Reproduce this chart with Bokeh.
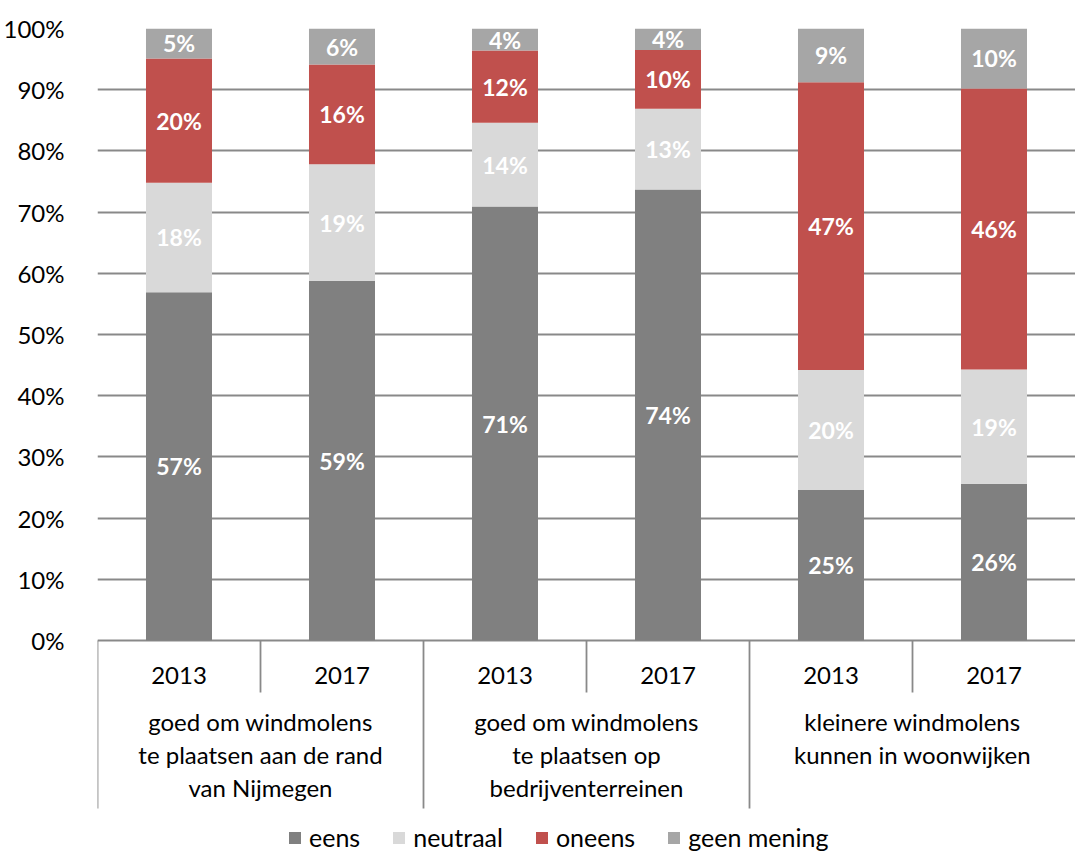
from bokeh.plotting import figure
from bokeh.models import (Range1d, FixedTicker, Legend, LegendItem,
                          ColumnDataSource, PrintfTickFormatter)
from bokeh.core.properties import value
from bokeh.embed import file_html
from bokeh.resources import INLINE

# ---------------- data ----------------
groups = [
    "goed om windmolens\nte plaatsen aan de rand\nvan Nijmegen",
    "goed om windmolens\nte plaatsen op\nbedrijventerreinen",
    "kleinere windmolens\nkunnen in woonwijken",
]
years = ["2013", "2017", "2013", "2017", "2013", "2017"]
series = ["eens", "neutraal", "oneens", "geen mening"]
eens = [56.9, 58.8, 70.9, 73.7, 24.6, 25.6]
neutraal = [17.9, 19.0, 13.7, 13.2, 19.6, 18.7]
oneens = [20.3, 16.3, 11.8, 9.6, 47.0, 45.9]
geen_mening = [4.9, 5.9, 3.6, 3.5, 8.8, 9.8]
y_ticks = [0, 10, 20, 30, 40, 50, 60, 70, 80, 90, 100]

colors = ["#808080", "#D9D9D9", "#C0504D", "#A6A6A6"]
FONT = "Lato"

# ---------------- layout ----------------
W, H = 1075, 852
LEFT, TOP = 95, 28
PLOT_H_100 = 612.0          # pixels for 0..100
PX = 100.0 / PLOT_H_100     # data units per pixel
BELOW = H - TOP - PLOT_H_100  # pixels below the zero line inside frame

p = figure(width=W, height=H, x_range=Range1d(0, 6),
           y_range=Range1d(-BELOW * PX, 100),
           output_backend="svg", toolbar_location=None,
           x_axis_type=None,
           min_border_left=LEFT, min_border_right=0,
           min_border_top=TOP, min_border_bottom=0)
p.outline_line_color = None
p.background_fill_color = "white"

n = len(years)
xs = [i + 0.5 for i in range(n)]
cols = [eens, neutraal, oneens, geen_mening]
keys = ["eens", "neutraal", "oneens", "geen"]
src = ColumnDataSource(dict(x=xs, **{k: v for k, v in zip(keys, cols)}))

renderers = p.vbar_stack(keys, x="x", width=0.405, color=colors,
                         line_color=None, source=src)

# grid & y axis
p.xgrid.visible = False
p.ygrid.ticker = FixedTicker(ticks=y_ticks)
p.ygrid.grid_line_color = "#898989"
p.ygrid.grid_line_width = 1.8
yax = p.yaxis[0]
yax.ticker = FixedTicker(ticks=y_ticks)
yax.formatter = PrintfTickFormatter(format="%d%%")
yax.axis_line_color = None
yax.major_tick_line_color = None
yax.minor_tick_line_color = None
yax.major_label_text_font = FONT
yax.major_label_text_font_size = "24px"
yax.major_label_text_color = "#000000"
yax.major_label_standoff = 27

# value labels inside segments
lx, ly, lt = [], [], []
for i in range(n):
    base = 0.0
    for c in cols:
        v = c[i]
        lx.append(xs[i])
        ly.append(base + v / 2.0)
        lt.append("%d%%" % int(v + 0.5))
        base += v
p.text(x=lx, y=ly, text=lt, text_color="white", text_font=value(FONT),
       text_font_style="bold", text_font_size="23px",
       text_align="center", text_baseline="middle")

# category separators
p.segment(x0=[0, 2, 4], y0=[0, 0, 0], x1=[0, 2, 4],
          y1=[-168 * PX] * 3, line_color="#898989", line_width=1.8)
p.segment(x0=[1, 3, 5], y0=[0, 0, 0], x1=[1, 3, 5],
          y1=[-52 * PX] * 3, line_color="#898989", line_width=1.8)

# year labels
p.text(x=xs, y=[-35 * PX] * n, text=years, text_color="#000000",
       text_font=value(FONT), text_font_size="24px",
       text_align="center", text_baseline="middle")

# group labels
gx = [1, 3, 5]
p.text(x=gx, y=[-66 * PX] * 3, text=groups, text_color="#000000",
       text_font=value(FONT), text_font_size="24px",
       text_align="center", text_baseline="top", text_line_height=1.15)

# legend
items = [LegendItem(label=s, renderers=[r]) for s, r in zip(series, renderers)]
legend = Legend(items=items, orientation="horizontal", location=(190, 0),
                glyph_width=15, glyph_height=15, label_standoff=7,
                spacing=31, padding=0, margin=0,
                border_line_color=None, background_fill_alpha=0,
                label_text_font=FONT, label_text_font_size="25px",
                label_text_color="#000000", label_height=15)
p.add_layout(legend)

open("out.html", "w").write(file_html(p, INLINE))
